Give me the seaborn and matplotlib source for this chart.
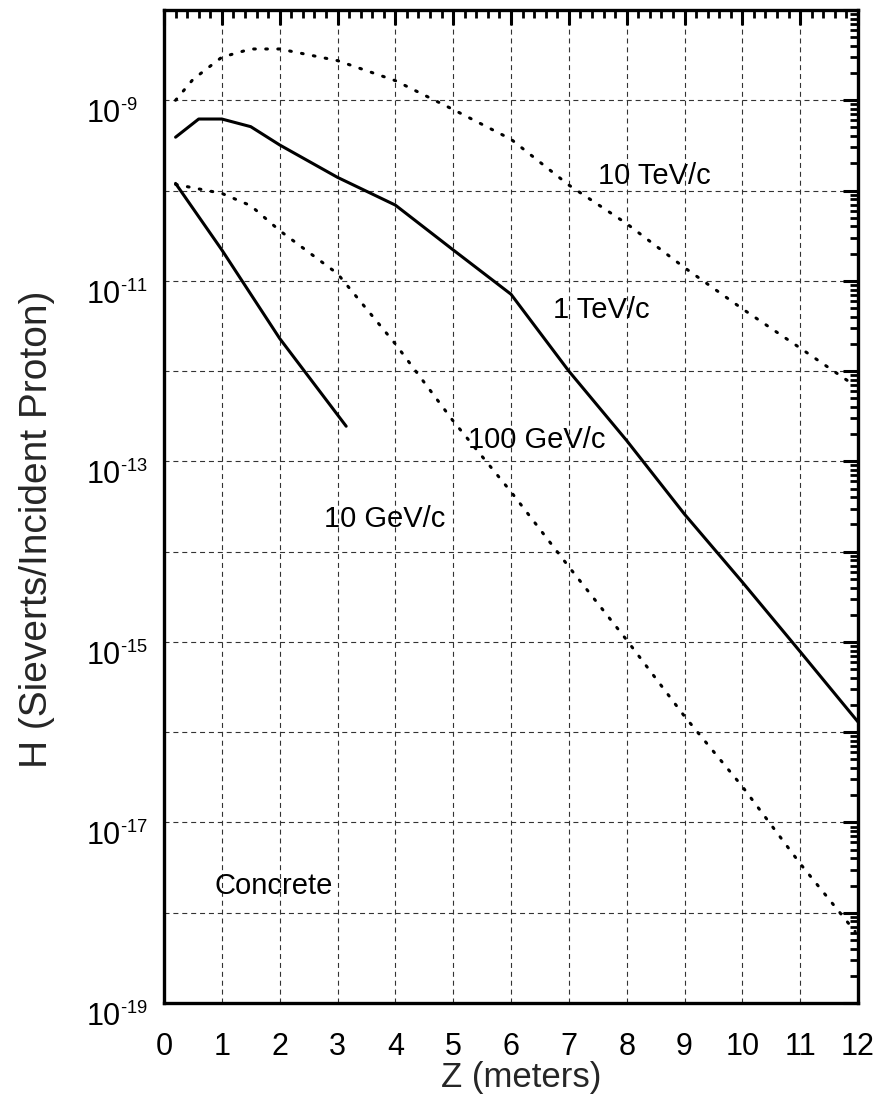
import matplotlib
matplotlib.use("Agg")
import matplotlib.pyplot as plt
import matplotlib.ticker as mticker
import matplotlib._mathtext as _mt
import pandas as pd
import seaborn as sns

# Dose equivalent behind concrete shielding vs. depth, per incident proton
z_10tev = [0.2, 0.5, 1.0, 1.5, 2.0, 3.0, 4.0, 5.0, 6.0, 7.0, 8.0, 9.0, 10.0, 11.0, 11.85]
h_10tev = [1.0e-9, 1.7e-9, 3.0e-9, 3.7e-9, 3.7e-9, 2.75e-9, 1.65e-9, 7.9e-10, 3.7e-10,
           1.15e-10, 4.3e-11, 1.4e-11, 4.9e-12, 1.8e-12, 7.6e-13]

z_1tev = [0.2, 0.6, 1.0, 1.5, 2.0, 3.0, 4.0, 5.0, 6.0, 7.0, 8.0, 9.0, 10.0, 11.0, 12.0]
h_1tev = [3.9e-10, 6.2e-10, 6.2e-10, 5.1e-10, 3.2e-10, 1.4e-10, 6.9e-11, 2.2e-11, 7.1e-12,
          1.0e-12, 1.7e-13, 2.6e-14, 4.6e-15, 7.8e-16, 1.3e-16]

z_100gev = [0.2, 1.0, 1.5, 2.0, 3.0, 4.0, 5.0, 6.0, 7.0, 8.0, 9.0, 10.0, 11.0, 11.95]
h_100gev = [1.17e-10, 9.3e-11, 6.8e-11, 3.6e-11, 1.2e-11, 2.0e-12, 2.8e-13, 4.6e-14, 6.8e-15,
            1.05e-15, 1.5e-16, 2.5e-17, 3.5e-18, 6.2e-19]

z_10gev = [0.2, 1.0, 2.0, 3.15]
h_10gev = [1.2e-10, 2.2e-11, 2.3e-12, 2.45e-13]

curve_labels = ["10 TeV/c", "1 TeV/c", "100 GeV/c", "10 GeV/c", "Concrete"]
label_z = [7.5, 6.73, 5.26, 2.77, 0.87]
label_h = [1.46e-10, 4.7e-12, 1.74e-13, 2.3e-14, 2.0e-18]

y_exponents = list(range(-8, -20, -1))
x_ticks = list(range(0, 13))

sns.set_style("white")
plt.rcParams["font.family"] = ["Liberation Sans", "DejaVu Sans"]
plt.rcParams["mathtext.fontset"] = "custom"
plt.rcParams["mathtext.rm"] = "Liberation Sans"
plt.rcParams["mathtext.it"] = "Liberation Sans:italic"
plt.rcParams["mathtext.bf"] = "Liberation Sans:bold"
# smaller superscripts for the decade labels
_mt.SHRINK_FACTOR = 0.6

fig = plt.figure(figsize=(8.82, 11.01), dpi=100)
ax = fig.add_axes([164 / 882, 1 - 1003 / 1101, (858 - 164) / 882, (1003 - 10) / 1101])

dotted = dict(linestyle=(0, (0.55, 3.4)), dash_capstyle="round")
solid = dict(linestyle="-")
curves = [
    (z_10tev, h_10tev, dotted),
    (z_1tev, h_1tev, solid),
    (z_100gev, h_100gev, dotted),
    (z_10gev, h_10gev, solid),
]
for z, h, style in curves:
    df = pd.DataFrame({"Z": z, "H": h})
    sns.lineplot(data=df, x="Z", y="H", ax=ax, color="black", lw=2.2,
                 sort=False, estimator=None, zorder=3, **style)

ax.set_yscale("log")
ax.set_xlim(0, 12)
ax.set_ylim(1e-19, 1e-8)

ax.set_xticks(x_ticks, labels=[str(t) for t in x_ticks])
ax.xaxis.set_minor_locator(mticker.MultipleLocator(0.2))
ytick_vals = [10.0 ** e for e in y_exponents]
ytick_labels = [r"$\mathregular{10^{\text{%d}}}$" % e if e % 2 else "" for e in y_exponents]
ax.set_yticks(ytick_vals, labels=ytick_labels, va="top", ha="left")
ax.yaxis.set_minor_locator(mticker.LogLocator(base=10, subs=range(2, 10), numticks=100))
ax.yaxis.set_minor_formatter(mticker.NullFormatter())

ax.tick_params(which="both", direction="in", top=True, right=True, colors="black")
ax.tick_params(which="major", length=11, width=2.2, labelsize=22)
ax.tick_params(which="minor", length=5.5, width=2.0)
ax.tick_params(axis="x", which="major", pad=21)
ax.tick_params(axis="y", which="major", pad=56)

ax.grid(True, which="major", color="#333333", lw=0.8, linestyle=(0, (4.5, 3.5)))
ax.grid(False, which="minor")
for sp in ax.spines.values():
    sp.set_linewidth(2.4)
    sp.set_color("black")
    sp.set_visible(True)

ax.set_xlabel("Z (meters)", fontsize=25)
ax.xaxis.set_label_coords(0.514, -0.058)
ax.set_ylabel("H (Sieverts/Incident Proton)", fontsize=28)
ax.yaxis.set_label_coords(-0.157, 0.477)

for txt, zx, hy in zip(curve_labels, label_z, label_h):
    ax.text(zx, hy, txt, fontsize=21, ha="left", va="center", color="black", zorder=4)

fig.savefig("out.png", dpi=100, facecolor="white")
